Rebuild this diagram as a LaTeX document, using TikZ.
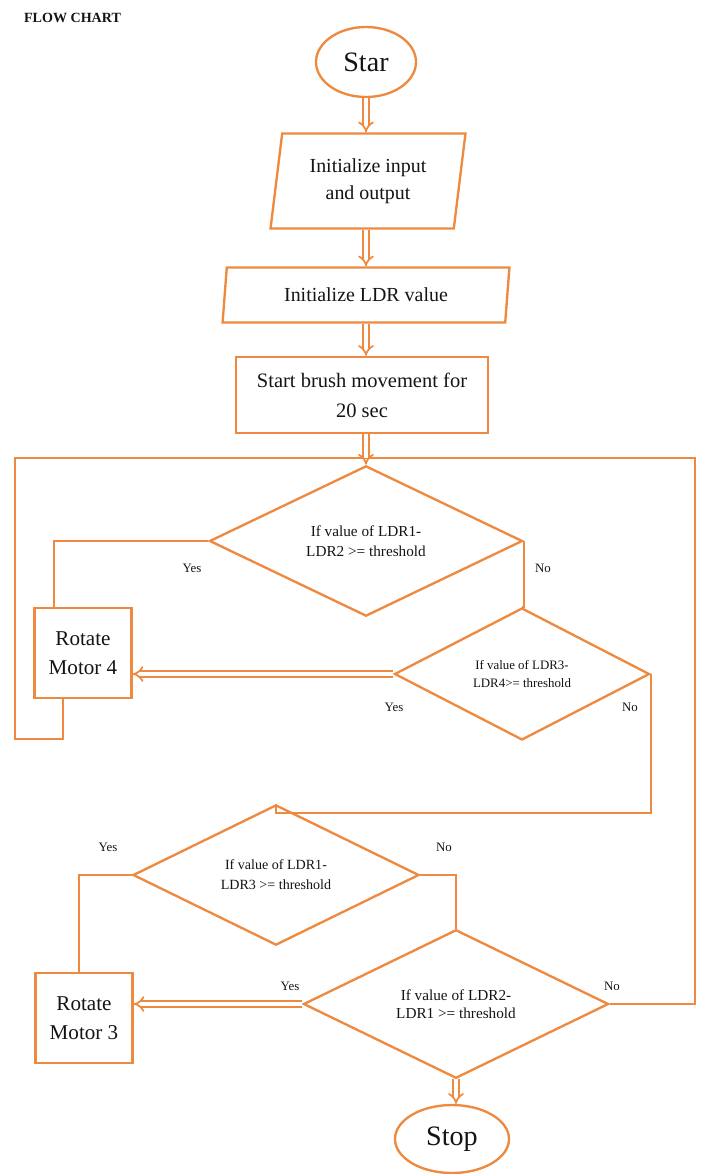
\documentclass[tikz,border=0pt]{standalone}
\usepackage{fontspec}
\setmainfont{Liberation Serif}
\usepackage{xcolor}
\usepackage{tikz}
\usetikzlibrary{shapes.geometric,arrows.meta}
\definecolor{flow}{HTML}{ED8A3F}
\definecolor{ink}{HTML}{141414}
\newcommand{\fsz}[2]{\fontsize{#1}{#2}\selectfont}
\tikzset{
  base/.style={draw=flow, line width=2pt, line join=miter, text=ink, inner sep=0pt, align=center},
  term/.style={base, ellipse, font=\fsz{24}{28}},
  io/.style={base, trapezium, trapezium left angle=80, trapezium right angle=100, trapezium stretches=true},
  proc/.style={base, rectangle},
  dec/.style={base, diamond},
  link/.style={draw=flow, line width=2pt, line join=miter},
  dbl/.style={draw=flow, line width=1.5pt, double=white, double distance=3pt, -{Implies}},
  ans/.style={text=ink, font=\fsz{11}{12}},
}
\begin{document}
\begin{tikzpicture}[x=0.03cm, y=-0.03cm]
  \useasboundingbox (0,0) rectangle (702,1174);

  \node[anchor=west, text=ink, font=\bfseries\fsz{12}{14}] (title) at (20,18) {FLOW CHART};

  % main column
  \node[term, minimum width=3.0cm, minimum height=2.1cm] (start) at (366,62) {Star};
  \node[io, minimum width=5.85cm, minimum height=2.85cm, font=\fsz{17}{23}] (init1) at (368,181) {Initialize input\\and output};
  \node[io, minimum width=8.61cm, minimum height=1.65cm, font=\fsz{17}{20}] (init2) at (366,295) {Initialize LDR value};
  \node[proc, minimum width=7.56cm, minimum height=2.28cm, font=\fsz{17.5}{25.5}] (brush) at (362,395) {Start brush movement for\\20 sec};

  % decisions
  \node[dec, minimum width=9.39cm, minimum height=4.14cm, font=\fsz{13}{17}] (d1) at (366,541) {If value of LDR1-\\LDR2 >= threshold};
  \node[dec, minimum width=7.65cm, minimum height=3.96cm, font=\fsz{11}{16}] (d2) at (522,674) {If value of LDR3-\\LDR4>= threshold};
  \node[dec, minimum width=8.58cm, minimum height=3.6cm, font=\fsz{12}{17}] (d3) at (276,875) {If value of LDR1-\\LDR3 >= threshold};
  \node[dec, minimum width=9.15cm, minimum height=3.54cm, font=\fsz{13}{15.5}] (d4) at (456,1004) {If value of LDR2-\\LDR1 >= threshold};

  % motors
  \node[proc, minimum width=2.91cm, minimum height=2.7cm, font=\fsz{18}{25}] (m4) at (83,653) {Rotate\\Motor 4};
  \node[proc, minimum width=2.91cm, minimum height=2.7cm, font=\fsz{18}{25}] (m3) at (84,1018) {Rotate\\Motor 3};

  \node[term, minimum width=3.42cm, minimum height=2.04cm] (stop) at (452,1139) {Stop};

  % loop back points
  \coordinate (top) at (366,458);
  \coordinate (m4out) at (63,698);

  \draw[link] (m4out) -- (63,739) -- (15,739) -- (15,458) -- (top);
  \draw[link] (d4.east) -- (695,1004) -- (695,458) -- (top);
  \draw[link] (d1.west) -- (54,541) -- (m4.north -| 54,0);
  \draw[link] (d1.east) -- (d1.east |- d2.north) -- (d2.north);
  \draw[link] (d2.east) -- (d2.east |- 0,813) -- (d3.north |- 0,813) -- (d3.north);
  \draw[link] (d3.west) -- (79,875) -- (m3.north -| 79,0);
  \draw[link] (d3.east) -- (456,875) -- (d4.north);

  \draw[dbl] (start.south) -- (start.south |- init1.north);
  \draw[dbl] (start.south |- init1.south) -- (start.south |- init2.north);
  \draw[dbl] (start.south |- init2.south) -- (start.south |- brush.north);
  \draw[dbl] (start.south |- brush.south) -- (d1.north);
  \draw[dbl] (d2.west) -- (m4.east |- d2.west);
  \draw[dbl] (d4.west) -- (m3.east |- d4.west);
  \draw[dbl] (d4.south) -- (d4.south |- stop.north);

  \node[ans] (y1) at (192,568) {Yes};
  \node[ans] (n1) at (543,568) {No};
  \node[ans] (y2) at (394,707) {Yes};
  \node[ans] (n2) at (630,707) {No};
  \node[ans] (y3) at (108,847) {Yes};
  \node[ans] (n3) at (444,847) {No};
  \node[ans] (y4) at (290,986) {Yes};
  \node[ans] (n4) at (612,986) {No};
\end{tikzpicture}
\end{document}
